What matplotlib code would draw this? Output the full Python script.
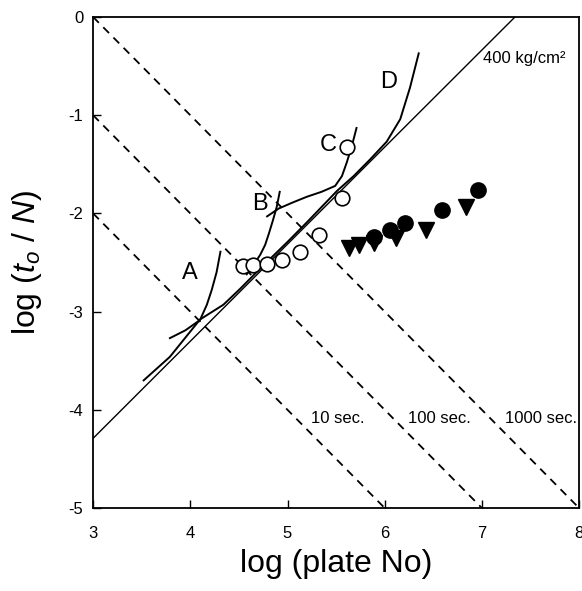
import numpy as np
import matplotlib
matplotlib.use('Agg')
import matplotlib.pyplot as plt

plt.rcParams['font.family'] = ['Liberation Sans', 'DejaVu Sans']
plt.rcParams['mathtext.fontset'] = 'custom'
plt.rcParams['mathtext.rm'] = 'Liberation Sans'
plt.rcParams['mathtext.it'] = 'Liberation Sans:italic'
plt.rcParams['axes.unicode_minus'] = False

# open circles
open_x = [4.54, 4.65, 4.79, 4.94, 5.13, 5.32, 5.56, 5.61]
open_y = [-2.54, -2.53, -2.51, -2.47, -2.39, -2.22, -1.84, -1.32]

# filled circles
fill_x = [5.885, 6.055, 6.21, 6.59, 6.96]
fill_y = [-2.245, -2.17, -2.10, -1.97, -1.76]

# filled triangles
tri_x = [5.63, 5.74, 5.89, 6.12, 6.42, 6.84]
tri_y = [-2.35, -2.32, -2.30, -2.25, -2.17, -1.93]

# curves A-D
curve_a_x = [3.79, 3.95, 4.10, 4.17, 4.22, 4.27, 4.31]
curve_a_y = [-3.27, -3.19, -3.085, -2.93, -2.78, -2.60, -2.39]

curve_b_x = [4.58, 4.66, 4.72, 4.77, 4.81, 4.85, 4.89, 4.92]
curve_b_y = [-2.62, -2.51, -2.42, -2.32, -2.20, -2.07, -1.93, -1.78]

curve_c_x = [4.79, 4.91, 5.05, 5.20, 5.35, 5.49, 5.56, 5.61, 5.66, 5.71]
curve_c_y = [-2.03, -1.95, -1.89, -1.83, -1.78, -1.72, -1.62, -1.48, -1.32, -1.13]

curve_d_x = [3.52, 3.79, 4.10, 4.34, 4.51, 4.72, 5.0, 5.2, 5.51, 5.68,
             5.85, 6.02, 6.16, 6.26, 6.35]
curve_d_y = [-3.70, -3.46, -3.08, -2.93, -2.77, -2.56, -2.29, -2.09, -1.77, -1.62,
             -1.45, -1.27, -1.04, -0.72, -0.37]

# pressure limit line (400 kg/cm2)
press_x = [3.0, 7.34]
press_y = [-4.29, 0.0]

# dead-time lines: log(t0/N) = c - log N
dead_c = [1, 2, 3]
dead_labels = ['10 sec.', '100 sec.', '1000 sec.']
dead_label_x = [5.24, 6.24, 7.24]

fig = plt.figure(figsize=(5.82, 5.91), dpi=100)
ax = fig.add_axes([0.160, 0.1404, 0.835, 0.8308])

for c in dead_c:
    xs = np.array([3.0, c + 5.0])
    ax.plot(xs, c - xs, color='black', lw=1.3, linestyle=(0, (4.5, 3.5)))

ax.plot(press_x, press_y, color='black', lw=1.0)

for cx, cy in [(curve_a_x, curve_a_y), (curve_b_x, curve_b_y),
               (curve_c_x, curve_c_y), (curve_d_x, curve_d_y)]:
    ax.plot(cx, cy, color='black', lw=1.4)

ax.plot(open_x, open_y, 'o', ms=10.5, mfc='white', mec='black', mew=1.2, ls='none')
ax.plot(tri_x, tri_y, 'v', ms=11, color='black', ls='none')
ax.plot(fill_x, fill_y, 'o', ms=11, color='black', ls='none')

ax.text(4.0, -2.61, 'A', fontsize=17, ha='center', va='center')
ax.text(4.72, -1.90, 'B', fontsize=17, ha='center', va='center')
ax.text(5.42, -1.30, 'C', fontsize=17, ha='center', va='center')
ax.text(6.04, -0.66, 'D', fontsize=17, ha='center', va='center')
ax.text(7.01, -0.42, '400 kg/cm²', fontsize=12, ha='left', va='center')
for lx, lab in zip(dead_label_x, dead_labels):
    ax.text(lx, -4.09, lab, fontsize=12, ha='left', va='center')

ax.set_xlim(3, 8)
ax.set_ylim(-5, 0)
ax.set_xticks([3, 4, 5, 6, 7, 8])
ax.set_yticks([-5, -4, -3, -2, -1, 0])
ax.tick_params(direction='in', length=6, width=1.0, labelsize=12,
               top=False, right=False)
ax.tick_params(axis='x', pad=13)
ax.tick_params(axis='y', pad=7)
for s in ax.spines.values():
    s.set_linewidth(1.3)

ax.set_xlabel('log (plate No)', fontsize=23, labelpad=6)
ax.set_ylabel(r'log ($t_o$ / $N$)', fontsize=23, labelpad=18)

fig.savefig('out.png', dpi=100)
